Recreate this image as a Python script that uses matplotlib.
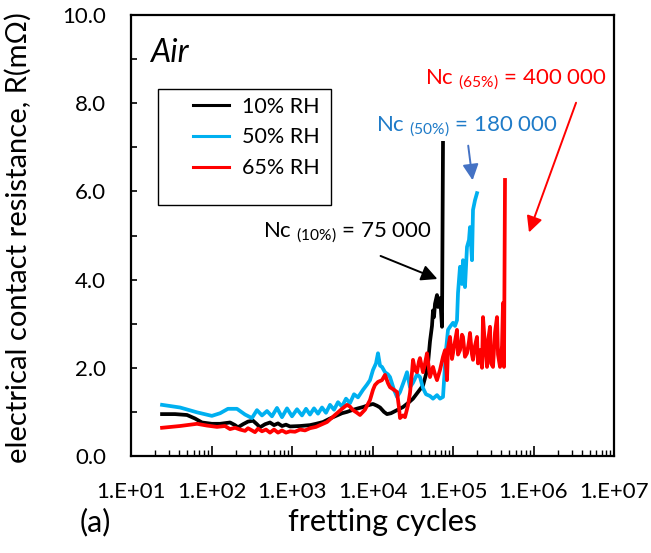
import matplotlib
matplotlib.use('Agg')
import matplotlib.pyplot as plt
from matplotlib.patches import Rectangle
from matplotlib.ticker import MultipleLocator, FormatStrFormatter, LogLocator, NullFormatter

plt.rcParams['font.family'] = ['Lato', 'DejaVu Sans']
plt.rcParams['mathtext.fontset'] = 'custom'
plt.rcParams['mathtext.rm'] = 'Lato'

# fretting cycles / resistance (mOhm)
cycles_10 = [24.3, 35.2, 49.6, 62.4, 76.2, 101, 128, 170, 196, 213, 246, 284, 328, 367, 400,
             462, 533, 598, 670, 751, 842, 945, 1257, 1673, 1987, 2427, 2965, 3623, 4180,
             4823, 5564, 6605, 7621, 8794, 10140, 11370, 12400, 13900, 15140, 16980, 20160,
             23930, 27610, 31850, 36740, 42400, 46190, 48920, 51800, 54840, 56440, 58070,
             59760, 63270, 65120, 67000, 68950, 70950, 73020, 75130]
res_10 = [0.95, 0.95, 0.93, 0.85, 0.76, 0.73, 0.73, 0.76, 0.70, 0.65, 0.72, 0.78, 0.80, 0.72, 0.65,
          0.72, 0.76, 0.70, 0.74, 0.68, 0.71, 0.67, 0.68, 0.70, 0.73, 0.77, 0.85, 0.92, 0.97,
          1.00, 1.04, 1.08, 1.11, 1.15, 1.18, 1.14, 1.10, 1.00, 0.95, 0.97, 1.04,
          1.11, 1.20, 1.30, 1.45, 1.60, 1.85, 2.10, 2.60, 2.95, 3.30, 3.15,
          3.45, 3.65, 3.38, 3.55, 3.58, 3.30, 2.93, 7.10]

cycles_50 = [24.3, 40.6, 66.1, 101, 128, 160, 207, 261, 318, 367, 424, 489, 564, 651, 751, 867,
             1000, 1154, 1331, 1493, 1673, 1876, 2104, 2359, 2645, 2965, 3325, 3728, 4180,
             4687, 5254, 5892, 6605, 7621, 8546, 9310, 10140, 11050, 11700, 12400, 13120,
             14300, 15580, 16500, 18500, 20160, 21960, 24620, 26830, 29230, 31850, 35710,
             38910, 42400, 46190, 51800, 56440, 63270, 68950, 75130, 81860, 86690, 91780,
             100000, 105900, 112100, 115400, 122200, 129300, 133100, 140900, 149200, 158000,
             162600, 172200, 177200, 187600, 198700]
res_50 = [1.16, 1.10, 0.99, 0.91, 0.97, 1.07, 1.07, 0.94, 0.86, 1.04, 0.92, 1.02, 0.90, 1.09, 0.88, 1.08,
          0.90, 1.06, 0.92, 1.07, 0.94, 1.08, 0.96, 1.10, 0.98, 1.16, 1.05, 1.22, 1.12,
          1.30, 1.20, 1.40, 1.33, 1.50, 1.62, 1.72, 1.95, 2.10, 2.33, 2.05, 2.02,
          1.90, 1.85, 1.79, 1.50, 1.34, 1.45, 1.70, 1.90, 1.56, 1.66, 1.85,
          1.79, 1.54, 1.40, 1.36, 1.30, 1.38, 1.30, 1.34, 2.40, 2.86, 2.93,
          3.02, 2.95, 3.08, 3.70, 4.29, 3.90, 4.44, 3.83, 4.74, 4.90,
          5.19, 4.44, 5.58, 5.80, 5.96]

cycles_65 = [24.3, 40.6, 66.1, 87.9, 117, 147, 170, 196, 226, 261, 284, 318, 347, 378, 424, 475,
             533, 598, 670, 751, 842, 945, 1090, 1257, 1451, 1673, 1987, 2359, 2722, 3140,
             3623, 4180, 4823, 5254, 5726, 6419, 6993, 8069, 9310, 10140, 10740, 11700,
             13120, 14300, 15580, 16500, 18500, 20160, 21340, 21960, 23930, 25330, 27610,
             29230, 30950, 31850, 33730, 35710, 37810, 38910, 42400, 44900, 47540, 51800,
             56440, 59760, 63270, 68950, 75130, 79550, 84240, 86690, 91780, 97180, 100000,
             105900, 112100, 115400, 122200, 129300, 133100, 140900, 149200, 158000, 162600,
             172200, 177200, 187600, 198700, 204500, 216500, 229300, 235900, 249800, 264500,
             272200, 288200, 296500, 314000, 332500, 352100, 362300, 383600, 406200, 418000,
             430100, 442600]
res_65 = [0.64, 0.68, 0.73, 0.69, 0.66, 0.68, 0.61, 0.64, 0.60, 0.57, 0.63, 0.58, 0.54, 0.62, 0.56, 0.60,
          0.53, 0.60, 0.53, 0.58, 0.53, 0.56, 0.55, 0.60, 0.58, 0.63, 0.66, 0.72, 0.77, 0.87,
          0.97, 1.07, 1.16, 1.12, 1.04, 0.98, 0.93, 1.05, 1.27, 1.50, 1.61, 1.68,
          1.72, 1.84, 1.65, 1.56, 1.50, 1.45, 1.10, 0.86, 0.92, 0.88, 1.15,
          1.43, 1.90, 2.18, 1.95, 1.90, 2.15, 2.22, 1.90, 2.10, 2.33, 1.79,
          2.02, 1.85, 1.72, 1.95, 2.25, 2.40, 1.72, 2.45, 2.70, 2.20, 2.33,
          2.60, 2.86, 2.30, 2.40, 2.75, 2.70, 2.25, 2.33, 2.60, 2.79,
          2.30, 2.18, 2.50, 2.70, 2.10, 2.40, 2.00, 3.15, 2.50, 2.02,
          2.60, 2.93, 2.10, 2.02, 2.80, 3.15, 2.30, 2.02, 2.50, 3.47,
          2.02, 6.26]

labels = ['10% RH', '50% RH', '65% RH']
colors = ['#000000', '#00B0F0', '#FF0000']

fig = plt.figure(figsize=(6.51, 5.53), dpi=100)
ax = fig.add_axes([131 / 651, 1 - 456 / 553, 483 / 651, 441 / 553])

for cx, ry, lab, col in zip([cycles_10, cycles_50, cycles_65], [res_10, res_50, res_65], labels, colors):
    ax.plot(cx, ry, color=col, lw=2.7, label=lab, solid_joinstyle='round')

ax.set_xscale('log')
ax.set_xlim(10, 1e7)
ax.set_ylim(0, 10)
ax.xaxis.set_minor_locator(LogLocator(base=10, subs=range(2, 10), numticks=100))
ax.xaxis.set_minor_formatter(NullFormatter())
ax.set_xticks([1e1, 1e2, 1e3, 1e4, 1e5, 1e6, 1e7])
ax.set_xticklabels(['1.E+01', '1.E+02', '1.E+03', '1.E+04', '1.E+05', '1.E+06', '1.E+07'])
ax.yaxis.set_major_locator(MultipleLocator(2))
ax.yaxis.set_minor_locator(MultipleLocator(1))
ax.yaxis.set_major_formatter(FormatStrFormatter('%.1f'))

ax.tick_params(axis='x', which='major', direction='in', length=7, width=1.2, labelsize=16, pad=19)
ax.tick_params(axis='x', which='minor', direction='in', length=4, width=1.0)
ax.tick_params(axis='y', which='both', direction='in', length=4, width=1.2, labelsize=16, pad=18)
for s in ax.spines.values():
    s.set_linewidth(1.6)

# legend box
ax.add_patch(Rectangle((0.056, 0.569), 0.358, 0.263, transform=ax.transAxes,
                       fill=False, edgecolor='black', lw=1.0, zorder=5))
leg = ax.legend(loc='upper left', bbox_to_anchor=(0.128, 0.815), frameon=False, fontsize=15.5,
                handlelength=1.7, handletextpad=0.6, labelspacing=0.5, borderpad=0, borderaxespad=0)
for h in leg.get_lines():
    h.set_linewidth(2.2)

ax.text(0.039, 0.893, 'Air', transform=ax.transAxes, fontsize=23, style='italic')

# Nc annotations
ax.text(437, 5.06, r'Nc ${}_{\mathregular{(10\%)}}$ = 75 000', fontsize=16, color='black', va='center')
ax.text(11000, 7.46, r'Nc ${}_{\mathregular{(50\%)}}$ = 180 000', fontsize=16, color='#1F7BC8', va='center')
ax.text(44900, 8.53, r'Nc ${}_{\mathregular{(65\%)}}$ = 400 000', fontsize=16, color='#FF0000', va='center')

ax.annotate('', xy=(68950, 3.99), xytext=(11700, 4.56),
            arrowprops=dict(arrowstyle='-|>', color='black', lw=1.4, mutation_scale=24))
ax.annotate('', xy=(177000, 6.19), xytext=(153000, 7.10),
            arrowprops=dict(arrowstyle='-|>', color='#4472C4', lw=1.4, mutation_scale=24))
ax.annotate('', xy=(855000, 5.01), xytext=(3.47e6, 8.07),
            arrowprops=dict(arrowstyle='-|>', color='#FF0000', lw=1.4, mutation_scale=24))

fig.text(18 / 651, 1 - 238 / 553, 'electrical contact resistance, R(mΩ)', rotation=90,
         fontsize=21, ha='center', va='center')
fig.text(383 / 651, 1 - 522 / 553, 'fretting cycles', fontsize=22, ha='center', va='center')
fig.text(95 / 651, 1 - 522 / 553, '(a)', fontsize=22, ha='center', va='center')

fig.savefig('out.png', dpi=100, facecolor='white')
